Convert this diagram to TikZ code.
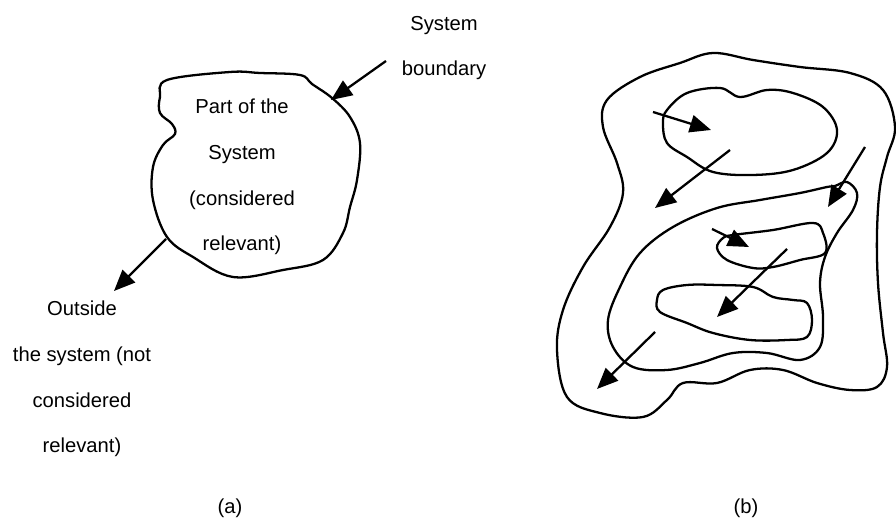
\documentclass[tikz,border=0pt]{standalone}
\usepackage{fontspec}
\setmainfont{Liberation Sans}
\usetikzlibrary{arrows.meta}

\begin{document}
\begin{tikzpicture}[x=0.02cm,y=-0.02cm,
    txt/.style={align=center,inner sep=0pt,font=\fontsize{11.5}{26}\selectfont},
    arr/.style={line width=1.3pt,-{Triangle[length=12pt,width=10pt]}}]
    \useasboundingbox (0,0) rectangle (896,519);
    % (a) one system and its boundary
    \draw[line width=1.3pt] plot[smooth cycle,tension=0.6] coordinates {(167,80) (230,72) (260,73) (300,75) (312,84) (332,98) (350,117) (360,143) (357,180) (350,207) (343,233) (323,260) (283,270) (233,277) (193,257) (167,237) (153,200) (153,167) (163,145) (175,134) (172,124) (160,113) (160,97)};
    \node[txt] (inside) at (242,177) {Part of the\\System\\(considered\\relevant)};
    \node[txt] (boundary) at (444,48) {System\\boundary};
    \node[txt] (outside) at (82,379) {Outside\\the system (not\\considered\\relevant)};
    \coordinate (bfrom) at (386,61);
    \coordinate (bto) at (331,100);
    \coordinate (ofrom) at (166,239);
    \coordinate (oto) at (114,291);
    \draw[arr] (bfrom) -- (bto);
    \draw[arr] (ofrom) -- (oto);
    \node[txt] (capa) at (230,508) {(a)};
    % (b) systems inside systems
    \draw[line width=1.3pt] plot[smooth cycle,tension=0.6] coordinates {(607,100) (640,77) (680,63) (713,53) (753,60) (800,67) (850,73) (883,90) (895,127) (887,157) (880,187) (877,233) (878,283) (883,333) (887,367) (877,387) (850,390) (817,383) (783,370) (750,370) (717,383) (683,383) (667,400) (643,417) (600,413) (567,397) (557,350) (563,310) (583,267) (610,227) (623,193) (617,163) (603,127)};
    \draw[line width=1.3pt] plot[smooth cycle,tension=0.6] coordinates {(667,110) (687,93) (720,88) (740,97) (767,90) (793,93) (823,107) (837,130) (827,153) (793,170) (753,175) (713,172) (687,157) (667,143) (663,123)};
    \draw[line width=1.3pt] plot[smooth cycle,tension=0.6] coordinates {(835,186) (847,182) (857,193) (853,210) (837,233) (825,257) (820,283) (823,317) (820,347) (800,360) (767,353) (733,353) (700,363) (667,370) (633,367) (613,347) (608,320) (620,287) (640,253) (673,227) (717,208) (760,200) (800,193) (827,187)};
    \draw[line width=1.3pt] plot[smooth cycle,tension=0.6] coordinates {(733,235) (773,230) (813,223) (823,233) (825,253) (800,260) (773,267) (753,268) (727,260) (717,248) (723,238)};
    \draw[line width=1.3pt] plot[smooth cycle,tension=0.6] coordinates {(663,290) (687,285) (717,285) (753,287) (773,297) (793,300) (807,303) (812,320) (807,337) (787,340) (750,340) (713,333) (687,323) (660,312) (657,300)};
    \draw[arr] (653,112) -- (711,130);
    \draw[arr] (730,150) -- (655,208);
    \draw[arr] (865,147) -- (828,207);
    \draw[arr] (712,229) -- (749,247);
    \draw[arr] (787,249) -- (717,317);
    \draw[arr] (655,332) -- (597,389);
    \node[txt] (capb) at (746,508) {(b)};
\end{tikzpicture}
\end{document}
